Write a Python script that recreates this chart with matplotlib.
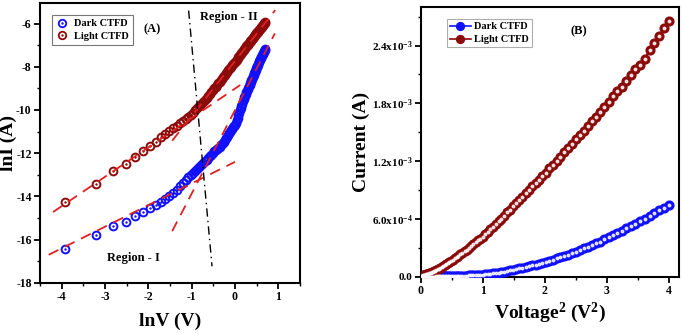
import numpy as np
import matplotlib
matplotlib.use("Agg")
import matplotlib.pyplot as plt
from matplotlib.lines import Line2D

plt.rcParams['font.family'] = 'Liberation Serif'
plt.rcParams['font.weight'] = 'bold'
plt.rcParams['mathtext.default'] = 'regular'
plt.rcParams['axes.unicode_minus'] = False

# bias sweep (V)
voltage = np.array([
    0.02, 0.04, 0.06, 0.08, 0.10, 0.12, 0.14, 0.16, 0.18, 0.20,
    0.22, 0.24, 0.26, 0.28, 0.30, 0.32, 0.34, 0.36, 0.38, 0.40,
    0.42, 0.44, 0.46, 0.48, 0.50, 0.52, 0.54, 0.56, 0.58, 0.60,
    0.62, 0.64, 0.66, 0.68, 0.70, 0.72, 0.74, 0.76, 0.78, 0.80,
    0.82, 0.84, 0.86, 0.88, 0.90, 0.92, 0.94, 0.96, 0.98, 1.00,
    1.02, 1.04, 1.06, 1.08, 1.10, 1.12, 1.14, 1.16, 1.18, 1.20,
    1.22, 1.24, 1.26, 1.28, 1.30, 1.32, 1.34, 1.36, 1.38, 1.40,
    1.42, 1.44, 1.46, 1.48, 1.50, 1.52, 1.54, 1.56, 1.58, 1.60,
    1.62, 1.64, 1.66, 1.68, 1.70, 1.72, 1.74, 1.76, 1.78, 1.80,
    1.82, 1.84, 1.86, 1.88, 1.90, 1.92, 1.94, 1.96, 1.98, 2.00])

# ln of current (A)
lni_dark = np.array([
    -16.42, -15.77, -15.38, -15.16, -14.92, -14.70, -14.53, -14.38, -14.27, -14.12,
    -13.98, -13.83, -13.68, -13.50, -13.36, -13.24, -13.12, -13.00, -12.90, -12.80,
    -12.72, -12.63, -12.55, -12.47, -12.38, -12.30, -12.22, -12.14, -12.06, -11.98,
    -11.91, -11.85, -11.79, -11.74, -11.69, -11.64, -11.58, -11.53, -11.46, -11.39,
    -11.31, -11.23, -11.16, -11.08, -11.01, -10.94, -10.87, -10.80, -10.75, -10.70,
    -10.58, -10.46, -10.35, -10.24, -10.13, -10.02, -9.91, -9.81, -9.70, -9.60,
    -9.51, -9.42, -9.34, -9.26, -9.19, -9.12, -9.04, -8.97, -8.90, -8.84,
    -8.77, -8.70, -8.63, -8.56, -8.49, -8.43, -8.37, -8.31, -8.25, -8.19,
    -8.13, -8.08, -8.02, -7.96, -7.91, -7.85, -7.80, -7.75, -7.69, -7.64,
    -7.59, -7.54, -7.50, -7.45, -7.41, -7.36, -7.32, -7.28, -7.24, -7.20])

lni_light = np.array([
    -14.26, -13.42, -12.82, -12.48, -12.16, -11.90, -11.66, -11.46, -11.27, -11.11,
    -10.97, -10.85, -10.73, -10.62, -10.51, -10.41, -10.31, -10.22, -10.12, -10.02,
    -9.92, -9.82, -9.72, -9.63, -9.53, -9.44, -9.35, -9.26, -9.17, -9.08,
    -9.00, -8.92, -8.85, -8.77, -8.70, -8.63, -8.56, -8.49, -8.42, -8.36,
    -8.29, -8.23, -8.17, -8.11, -8.05, -7.99, -7.93, -7.88, -7.83, -7.78,
    -7.72, -7.67, -7.61, -7.56, -7.51, -7.46, -7.41, -7.36, -7.31, -7.27,
    -7.22, -7.18, -7.14, -7.10, -7.05, -7.01, -6.97, -6.93, -6.90, -6.86,
    -6.83, -6.79, -6.76, -6.72, -6.69, -6.65, -6.62, -6.59, -6.55, -6.52,
    -6.49, -6.46, -6.43, -6.40, -6.37, -6.34, -6.31, -6.28, -6.25, -6.23,
    -6.20, -6.17, -6.14, -6.12, -6.09, -6.05, -6.02, -5.99, -5.96, -5.93])

# fitted lines: slope, intercept, lnV start, lnV end
fit_slope = [1.00, 3.86, 1.36, 2.54]
fit_icpt = [-12.40, -10.01, -9.01, -7.74]
fit_start = [-4.30, -1.45, -4.20, -1.45]
fit_end = [0.00, 0.92, 0.12, 0.93]

# region divider
divider_lnv = [-1.07, -0.53]
divider_lni = [-5.40, -17.23]

blue = '#1010ff'
brown = '#8b0a0a'
dash_red = '#e02020'

fig = plt.figure(figsize=(6.83, 3.34), dpi=100)
ax1 = fig.add_axes([0.0586, 0.153, 0.3806, 0.838])
ax2 = fig.add_axes([0.616, 0.171, 0.378, 0.808])

lnv = np.log(voltage)

# ---- panel A
for lni, c in [(lni_dark, blue), (lni_light, brown)]:
    ax1.plot(lnv, lni, 'o', ms=5.6, mfc='none', mec=c, mew=1.4, zorder=3)
    ax1.plot(lnv, lni, '.', ms=1.5, color=c, zorder=3)

for m, b, x0, x1 in zip(fit_slope, fit_icpt, fit_start, fit_end):
    xs = np.array([x0, x1])
    ax1.plot(xs, m * xs + b, color=dash_red, lw=1.3, dashes=(6, 4), zorder=4)

ax1.plot(divider_lnv, divider_lni, color='black', lw=1.0,
         dashes=(6, 3, 1, 3), zorder=5)

ax1.text(-0.81, -5.72, 'Region - II', fontsize=9, va='center')
ax1.text(-2.96, -16.83, 'Region - I', fontsize=9, va='center')
ax1.text(-1.92, -6.28, '(A)', fontsize=9, ha='center', va='center')

ax1.set_xlim(-4.5, 1.5)
ax1.set_ylim(-18, -5.05)
ax1.set_xticks([-4, -3, -2, -1, 0, 1])
ax1.set_xticks(np.arange(-4.5, 1.6, 0.5), minor=True)
ax1.set_yticks(np.arange(-18, -5, 2))
ax1.set_yticks(np.arange(-17, -5, 2), minor=True)
ax1.set_xlabel('lnV (V)', fontsize=14, fontweight='bold')
ax1.set_ylabel('lnI (A)', fontsize=14, fontweight='bold')
ax1.xaxis.set_label_coords(0.5, -0.105)
ax1.yaxis.set_label_coords(-0.088, 0.5)

hd = (Line2D([], [], ls='none', marker='o', ms=5.4, mfc='none', mec=blue, mew=1.3),
      Line2D([], [], ls='none', marker='.', ms=1.5, color=blue))
hl = (Line2D([], [], ls='none', marker='o', ms=5.4, mfc='none', mec=brown, mew=1.3),
      Line2D([], [], ls='none', marker='.', ms=1.5, color=brown))
leg1 = ax1.legend([hd, hl], ['Dark CTFD', 'Light CTFD'], loc='upper left',
                  bbox_to_anchor=(0.025, 0.975), fontsize=7.5, frameon=True,
                  fancybox=False, edgecolor='#555555', handlelength=1.2,
                  handletextpad=0.6, borderpad=0.35, labelspacing=0.35)
leg1.get_frame().set_linewidth(0.8)

# ---- panel B
v2 = voltage ** 2
for lni, c, lab in [(lni_dark, blue, 'Dark CTFD'), (lni_light, brown, 'Light CTFD')]:
    cur = np.exp(lni)
    ax2.plot(v2, cur, '-o', color=c, lw=1.2, ms=6.3, mfc=c, mec=c, label=lab, zorder=3)
    ax2.plot(v2, cur, 'o', ms=1.8, color='white', alpha=0.8, zorder=4)

ax2.text(2.54, 2.545e-3, '(B)', fontsize=9, ha='center', va='center')

ax2.set_xlim(0, 4.16)
ax2.set_ylim(0, 2.8e-3)
ax2.set_xticks([0, 1, 2, 3, 4])
ax2.set_xticks(np.arange(0, 4.2, 0.5), minor=True)
ax2.set_yticks([0, 6e-4, 1.2e-3, 1.8e-3, 2.4e-3])
ax2.set_yticklabels(['0.0', r'6.0x10$^{-4}$', r'1.2x10$^{-3}$',
                     r'1.8x10$^{-3}$', r'2.4x10$^{-3}$'])
ax2.set_yticks(np.arange(0, 2.8e-3, 3e-4), minor=True)
ax2.set_xlabel(r'Voltage$^2$ (V$^2$)', fontsize=14, fontweight='bold')
ax2.set_ylabel('Current (A)', fontsize=14, fontweight='bold')
ax2.xaxis.set_label_coords(0.5, -0.09)
ax2.yaxis.set_label_coords(-0.195, 0.5)

leg2 = ax2.legend(loc='upper left', bbox_to_anchor=(0.08, 0.975), fontsize=7.5,
                  frameon=True, fancybox=False, edgecolor='#999999',
                  handlelength=2.0, handletextpad=0.3, borderpad=0.3,
                  labelspacing=0.35, markerscale=0.9)
leg2.get_frame().set_linewidth(0.8)

for ax in (ax1, ax2):
    for s in ax.spines.values():
        s.set_linewidth(1.5)
    ax.tick_params(which='major', direction='out', length=4, width=1.3,
                   labelsize=8.5, pad=2)
    ax.tick_params(which='minor', direction='out', length=2.5, width=1.0)
    for t in ax.get_xticklabels() + ax.get_yticklabels():
        t.set_fontweight('bold')
ax2.tick_params(axis='y', which='major', labelsize=8)

fig.savefig('out.png', dpi=100)
